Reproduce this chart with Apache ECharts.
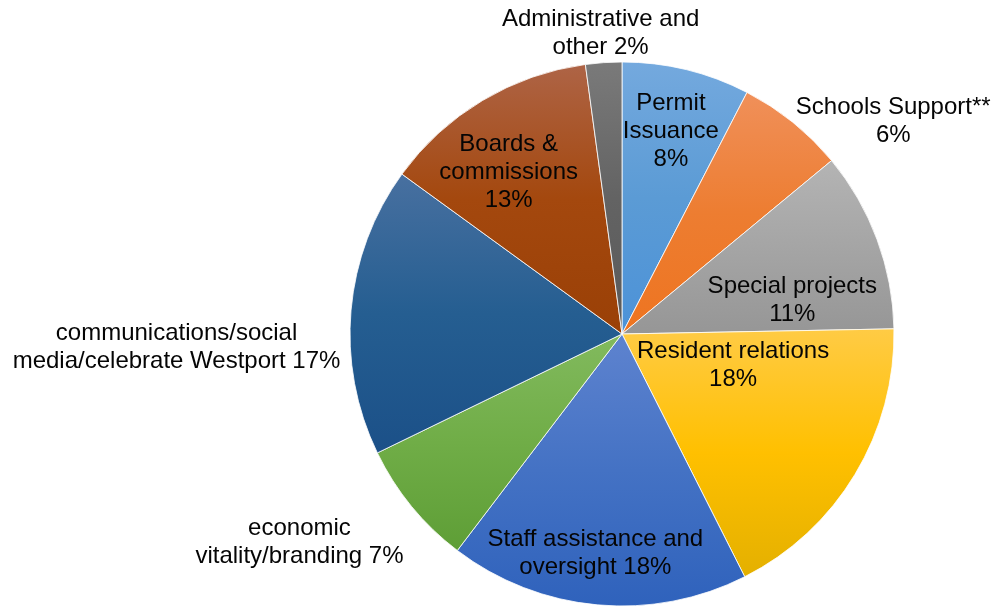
<!DOCTYPE html>
<html>
<head>
<meta charset="utf-8">
<script src="https://cdn.jsdelivr.net/npm/echarts@6/dist/echarts.min.js"></script>
<style>
  html, body { margin: 0; padding: 0; background: #ffffff; }
  #chart { width: 992px; height: 606px; }
</style>
</head>
<body>
<div id="chart"></div>
<script>
// ---- Data ----
const categories = [
  'Permit\nIssuance',
  'Schools Support**',
  'Special projects',
  'Resident relations',
  'Staff assistance and\noversight',
  'economic\nvitality/branding',
  'communications/social\nmedia/celebrate Westport',
  'Boards &\ncommissions',
  'Administrative and\nother'
];
const shares = [7.6, 6.4, 10.7, 17.85, 17.8, 7.45, 17.2, 12.85, 2.15];
// separator between name and percentage in the label
const pctSeparator = ['\n', '\n', '\n', '\n', ' ', ' ', ' ', '\n', ' '];

// ---- Styles ----
const gradientStops = [
  ['#74A9DE', '#5B9BD5', '#4C92D8'],
  ['#F0905A', '#ED7D31', '#EE7420'],
  ['#B4B4B4', '#A5A5A5', '#969696'],
  ['#FFCB45', '#FFC000', '#E4B000'],
  ['#5E83CF', '#4472C4', '#2F62BC'],
  ['#82BA5E', '#70AD47', '#5E9E36'],
  ['#4870A0', '#255E91', '#1B5088'],
  ['#AE6446', '#A4480E', '#9A4006'],
  ['#7A7A7A', '#636363', '#5A5A5A']
];
// label shifts from the default inside position [dx, dy]
const labelShift = [
  [16, -68], [184, -104], [40, 15], [-8, -40], [-14, 81],
  [-215, 120], [-307, 26], [-42, -42], [-12, -162]
];

const chart = echarts.init(document.getElementById('chart'), null, { renderer: 'canvas' });

const data = categories.map((name, i) => ({
  name: name,
  value: shares[i],
  itemStyle: {
    color: {
      type: 'linear', x: 0, y: 0, x2: 0, y2: 1,
      colorStops: [
        { offset: 0, color: gradientStops[i][0] },
        { offset: 0.5, color: gradientStops[i][1] },
        { offset: 1, color: gradientStops[i][2] }
      ]
    }
  }
}));

chart.setOption({
  animation: false,
  backgroundColor: '#ffffff',
  series: [{
    type: 'pie',
    center: [622, 334],
    radius: [0, 272],
    startAngle: 90,
    clockwise: true,
    avoidLabelOverlap: false,
    data: data,
    itemStyle: { borderColor: '#ffffff', borderWidth: 0.8 },
    label: {
      show: true,
      position: 'inside',
      color: '#050505',
      fontFamily: 'Liberation Sans, Arial, sans-serif',
      fontSize: 24,
      lineHeight: 28,
      align: 'center',
      textBorderWidth: 0,
      formatter: (p) => p.name + pctSeparator[p.dataIndex] + Math.round(p.percent) + '%'
    },
    labelLine: { show: false },
    labelLayout: (params) => ({
      dx: labelShift[params.dataIndex][0],
      dy: labelShift[params.dataIndex][1]
    }),
    emphasis: { disabled: true }
  }]
});
</script>
</body>
</html>
